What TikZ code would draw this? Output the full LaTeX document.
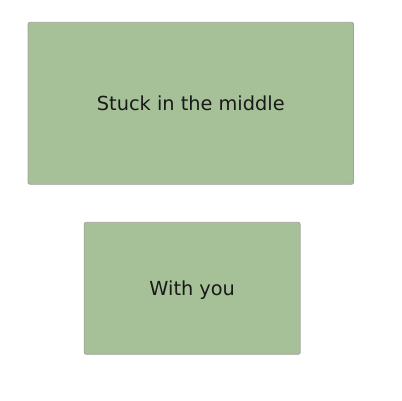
\documentclass[tikz,border=0pt]{standalone}
\usepackage{fontspec}
\setmainfont{DejaVu Sans}
\usepackage{tikz}
\definecolor{boxgreen}{RGB}{166,193,152}
\definecolor{boxedge}{RGB}{160,164,158}
\tikzset{
  greenbox/.style={draw=boxedge, fill=boxgreen, line width=0.6pt, rounded corners=1.5pt,
    inner sep=0pt, text depth=0pt, text=black!90, font=\fontsize{14.5}{16}\selectfont}
}
\begin{document}
\begin{tikzpicture}[x=0.75pt,y=0.75pt,yscale=-1,xscale=1]
\useasboundingbox (0,0) rectangle (402,400);

% Top box
\node [greenbox, minimum width=325.5*0.75pt, minimum height=162*0.75pt] (stuck) at (190.8,103.3) {Stuck in the middle};
% Bottom box
\node [greenbox, minimum width=216*0.75pt, minimum height=132*0.75pt] (withyou) at (192.2,288.3) {With you};

\end{tikzpicture}
\end{document}
